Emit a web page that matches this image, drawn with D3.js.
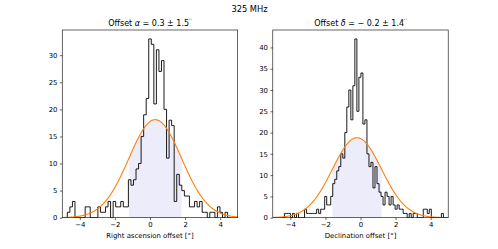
<!DOCTYPE html>
<html>
<head>
<meta charset="utf-8">
<script src="https://cdn.jsdelivr.net/npm/d3@7"></script>
<style>
  html, body { margin: 0; padding: 0; background: #fff; }
  svg text { font-family: "DejaVu Sans", sans-serif; fill: #000; }
</style>
</head>
<body>
<div id="chart"></div>
<script>
const width = 498;
const height = 249;

// histogram binning
const raBinStart = -4.71;
const raBinWidth = 0.145;
const raCounts = [1, 2, 3, 0, 0, 0, 0, 2, 2, 0, 0, 0, 2, 1, 1, 2, 3, 0, 3, 2,
                  2, 3, 2, 2, 7, 6, 7, 9, 10, 15, 19, 22, 33, 32, 21, 31, 27, 29, 20, 11,
                  18, 17, 3, 8, 6, 5, 4, 4, 2, 2, 3, 2, 3, 1, 1, 0, 1, 1, 0, 2,
                  1, 0, 1, 0];

const decBinStart = -4.45;
const decBinWidth = 0.1147;
const decCounts = [0, 1, 1, 1, 0, 1, 0, 1, 0, 0, 0, 2, 1, 1, 1, 1, 1, 2, 1, 2,
                   2, 5, 3, 3, 5, 8, 9, 11, 12, 15, 14, 20, 26, 30, 23, 31, 42, 25, 33, 34,
                   22, 23, 15, 12, 13, 7, 12, 8, 6, 5, 3, 6, 5, 3, 5, 3, 2, 3, 2, 2,
                   1, 1, 0, 1, 0, 1, 1, 0, 0, 0, 2, 2, 1, 2, 0, 0, 0, 0, 0, 1, 0];

// gaussian fits
const raMean = 0.3, raSigma = 1.5, raAmp = 18.1;
const decMean = -0.2, decSigma = 1.4, decAmp = 18.8;

const xTicks = [-4, -2, 0, 2, 4];
const raYTicks = [0, 5, 10, 15, 20, 25, 30];
const decYTicks = [0, 5, 10, 15, 20, 25, 30, 35, 40];

const plotTop = 30;
const plotBottom = 217.7;

const panels = [
  {left: 62.25, right: 237.7, start: raBinStart, bw: raBinWidth, counts: raCounts,
   mean: raMean, sigma: raSigma, amp: raAmp, yTicks: raYTicks,
   sym: "α", val: "0.3", err: "1.5", neg: false, xlabel: "Right ascension offset [°]"},
  {left: 272.8, right: 448.2, start: decBinStart, bw: decBinWidth, counts: decCounts,
   mean: decMean, sigma: decSigma, amp: decAmp, yTicks: decYTicks,
   sym: "δ", val: "0.2", err: "1.4", neg: true, xlabel: "Declination offset [°]"}
];

const svg = d3.select("#chart").append("svg")
  .attr("width", width)
  .attr("height", height)
  .attr("viewBox", `0 0 ${width} ${height}`);

svg.append("text")
  .attr("x", width / 2 + 0.5)
  .attr("y", 11.5)
  .attr("text-anchor", "middle")
  .attr("font-size", 8.3)
  .text("325 MHz");

const gauss = (x, p) => p.amp * Math.exp(-0.5 * ((x - p.mean) / p.sigma) ** 2);

panels.forEach((p, i) => {
  const edges = d3.range(p.counts.length + 1).map(k => p.start + k * p.bw);
  const ymax = d3.max(p.counts) * 1.05;

  const x = d3.scaleLinear().domain([-5, 5]).range([p.left, p.right]);
  const y = d3.scaleLinear().domain([0, ymax]).range([plotBottom, plotTop]);

  const g = svg.append("g");
  const clipId = "clip" + i;
  g.append("clipPath").attr("id", clipId)
    .append("rect")
    .attr("x", p.left).attr("y", plotTop)
    .attr("width", p.right - p.left).attr("height", plotBottom - plotTop);

  const plot = g.append("g").attr("clip-path", `url(#${clipId})`);

  // shaded 1-sigma region under the fit
  const fillXs = d3.range(0, 101).map(j => p.mean - p.sigma + j * (2 * p.sigma) / 100);
  plot.append("path")
    .datum(fillXs)
    .attr("fill", "#ececfa")
    .attr("d", d3.area().x(d => x(d)).y0(y(0)).y1(d => y(gauss(d, p))));

  // step histogram
  const pts = [[edges[0], 0]];
  p.counts.forEach((c, k) => pts.push([edges[k], c]));
  pts.push([edges[edges.length - 1], p.counts[p.counts.length - 1]]);
  pts.push([edges[edges.length - 1], 0]);
  plot.append("path")
    .datum(pts)
    .attr("fill", "none")
    .attr("stroke", "#000")
    .attr("stroke-width", 0.9)
    .attr("d", d3.line().x(d => x(d[0])).y(d => y(d[1])).curve(d3.curveStepAfter));

  // gaussian curve
  const curveXs = d3.range(0, 301).map(j => -5 + j * 10 / 300);
  plot.append("path")
    .datum(curveXs)
    .attr("fill", "none")
    .attr("stroke", "#ff7f0e")
    .attr("stroke-width", 1.1)
    .attr("d", d3.line().x(d => x(d)).y(d => y(gauss(d, p))));

  // axes
  const xAxis = g.append("g")
    .attr("transform", `translate(0,${plotBottom})`)
    .call(d3.axisBottom(x).tickValues(xTicks).tickSize(2.4).tickPadding(2.4)
      .tickFormat(d => d < 0 ? "−" + Math.abs(d) : d));
  const yAxis = g.append("g")
    .attr("transform", `translate(${p.left},0)`)
    .call(d3.axisLeft(y).tickValues(p.yTicks).tickSize(2.4).tickPadding(2.4));
  [xAxis, yAxis].forEach(a => {
    a.select(".domain").remove();
    a.selectAll(".tick line").attr("stroke", "#000").attr("stroke-width", 0.6);
    a.selectAll(".tick text").attr("font-size", 6.9).attr("font-family", "DejaVu Sans").attr("fill", "#000");
  });

  g.append("rect")
    .attr("x", p.left).attr("y", plotTop)
    .attr("width", p.right - p.left).attr("height", plotBottom - plotTop)
    .attr("fill", "none").attr("stroke", "#000").attr("stroke-width", 0.6);

  // titles
  const cx = (p.left + p.right) / 2;
  const t = g.append("text")
    .attr("x", cx).attr("y", 25.5)
    .attr("text-anchor", "middle")
    .attr("font-size", 8);
  t.append("tspan").text("Offset ");
  t.append("tspan").attr("font-style", "italic").text(p.sym);
  t.append("tspan").text(p.neg ? " = − " : " = ");
  t.append("tspan").text(p.val + " ± " + p.err);
  t.append("tspan").attr("font-size", 6).attr("dy", -3).text("′′");

  g.append("text")
    .attr("x", cx).attr("y", 237.5)
    .attr("text-anchor", "middle")
    .attr("font-size", 6.9)
    .text(p.xlabel);
});
</script>
</body>
</html>
